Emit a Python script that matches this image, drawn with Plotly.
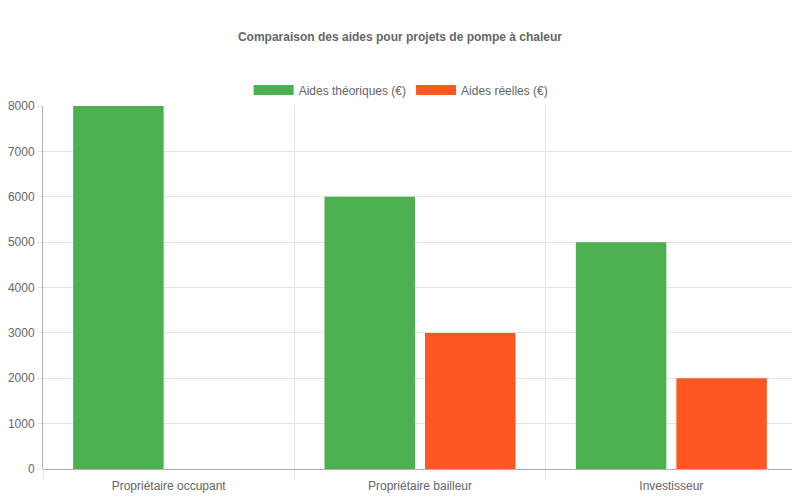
import plotly.graph_objects as go

CATEGORIES = ["Propriétaire occupant", "Propriétaire bailleur", "Investisseur"]
AIDES_THEORIQUES = [8000, 6000, 5000]
AIDES_REELLES = [0, 3000, 2000]
SERIES_NAMES = ["Aides théoriques (€)", "Aides réelles (€)"]
Y_TICKS = [0, 1000, 2000, 3000, 4000, 5000, 6000, 7000, 8000]

TITLE = "Comparaison des aides pour projets de pompe à chaleur"
C_GREEN = "#4CAF50"
C_RED = "#FF5722"
GRID = "#E5E5E5"
TXT = "#666666"
FONT = "Liberation Sans, Arial, sans-serif"

fig = go.Figure()
for name, vals, color in zip(SERIES_NAMES, [AIDES_THEORIQUES, AIDES_REELLES], [C_GREEN, C_RED]):
    fig.add_trace(go.Bar(x=CATEGORIES, y=vals, name=name, showlegend=False,
                         legendgroup=name, marker=dict(color=color, line=dict(width=0))))
    # entrée de légende seule : rectangle large façon Chart.js
    fig.add_trace(go.Scatter(x=[None], y=[None], mode="lines", name=name,
                             legendgroup=name, line=dict(color=color, width=12)))

# la page ajoute ~8 px de marge (body) : on compense dans les marges
fig.update_layout(
    width=800,
    height=500,
    barmode="group",
    bargap=0.2,
    bargroupgap=0.1,
    paper_bgcolor="white",
    plot_bgcolor="white",
    font=dict(family=FONT, size=12, color=TXT),
    title=dict(text=f"<b>{TITLE}</b>", x=0.49, xanchor="center", y=0.942, yanchor="middle",
               font=dict(family=FONT, size=12, color=TXT)),
    legend=dict(orientation="h", x=0.475, xanchor="center", y=0.836, yanchor="middle",
                yref="container", font=dict(family=FONT, size=12, color=TXT),
                itemwidth=40, traceorder="normal"),
    margin=dict(l=35, r=11, t=98, b=39, autoexpand=False),
    showlegend=True,
)
fig.update_xaxes(
    type="category",
    tickson="boundaries",
    showgrid=True,
    gridcolor=GRID,
    gridwidth=1,
    ticks="outside",
    ticklen=9,
    tickcolor=GRID,
    showline=False,
    automargin=False,
    ticklabelstandoff=8,
    tickfont=dict(family=FONT, size=12, color=TXT),
)
fig.update_yaxes(
    range=[0, 8000],
    tickvals=Y_TICKS,
    showgrid=True,
    gridcolor=GRID,
    gridwidth=1,
    ticks="outside",
    ticklen=5,
    tickcolor=GRID,
    showline=True,
    linecolor="#B0B0B0",
    zeroline=True,
    zerolinecolor="#B0B0B0",
    zerolinewidth=1,
    automargin=False,
    tickfont=dict(family=FONT, size=12, color=TXT),
)

fig.write_html("out.html")
